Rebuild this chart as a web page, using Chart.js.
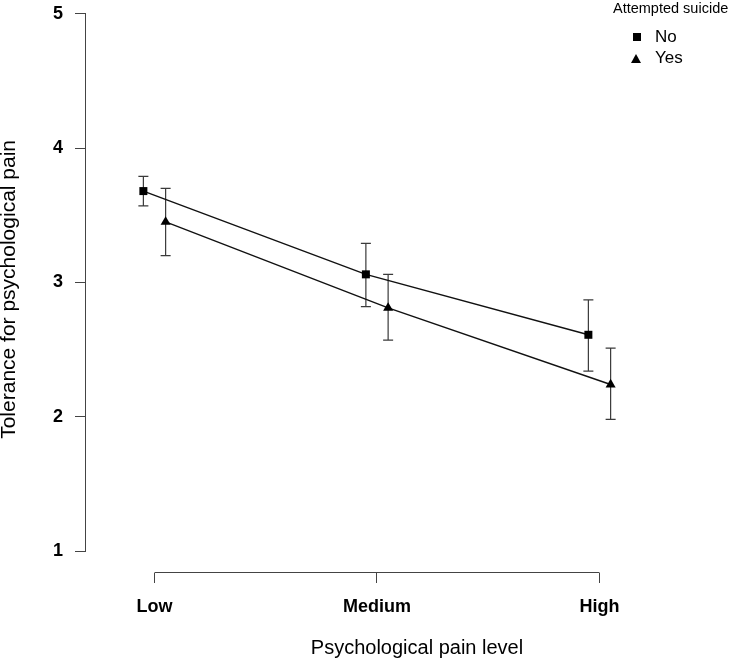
<!DOCTYPE html>
<html>
<head>
<meta charset="utf-8">
<script src="https://cdn.jsdelivr.net/npm/chart.js@4/dist/chart.umd.min.js"></script>
<style>
  html, body { margin: 0; padding: 0; background: #ffffff; }
  #wrap { position: relative; width: 729px; height: 663px; font-family: "Liberation Sans", Arial, sans-serif; color: #000; }
  #c { position: absolute; left: 0; top: 0; }
  #legend { position: absolute; left: 0; top: 0; width: 729px; height: 0; }
  .lg-title { position: absolute; left: 613px; top: 0px; font-size: 14.5px; line-height: 17px; white-space: nowrap; }
  .lg-text { position: absolute; left: 655px; font-size: 17px; line-height: 20px; white-space: nowrap; }
  .lg-rect { position: absolute; width: 8px; height: 8px; background: #000; }
  .lg-triangle { position: absolute; width: 0; height: 0; border-left: 5.5px solid transparent; border-right: 5.5px solid transparent; border-bottom: 9px solid #000; }
</style>
</head>
<body>
<div id="wrap">
  <canvas id="c" width="729" height="663"></canvas>
  <div id="legend"></div>
</div>
<script>
// ---------------- data ----------------
const categories = ['Low', 'Medium', 'High'];
const categoryPositions = [1, 2, 3];
const yTicks = [1, 2, 3, 4, 5];

const seriesNames = ['No', 'Yes'];
const noMean  = [3.68, 3.06, 2.61];
const noLower = [3.57, 2.82, 2.34];
const noUpper = [3.79, 3.29, 2.87];

const yesMean  = [3.45, 2.81, 2.24];
const yesLower = [3.20, 2.57, 1.98];
const yesUpper = [3.70, 3.06, 2.51];

const xTitle = 'Psychological pain level';
const yTitle = 'Tolerance for psychological pain';
const legendTitle = 'Attempted suicide';

// ---------------- style / layout ----------------
const FONT = '"Liberation Sans", Arial, sans-serif';
const INK = '#111111';
const AXIS = '#444444';
const BAR = '#3a3a3a';
const DODGE = 0.05;      // horizontal offset of the two groups
const CAP = 0.0225;      // half width of error-bar caps
const X_MIN = 0.889888, X_MAX = 3.469663;
const Y_MIN = 0.83643, Y_MAX = 5.0595;
const Y_AXIS_AT = 0.6899;   // x value where the y axis line sits
const X_AXIS_AT = 0.84015;  // y value where the x axis line sits
const markerStyles = ['rect', 'triangle'];

function points(xs, ys, off) {
  return xs.map((x, i) => ({ x: x + off, y: ys[i] }));
}
function errorBars(xs, lo, hi, off) {
  const pts = [];
  xs.forEach((x0, i) => {
    const x = x0 + off;
    pts.push({ x: x - CAP, y: hi[i] }, { x: x + CAP, y: hi[i] }, { x: x, y: null });
    pts.push({ x: x, y: hi[i] }, { x: x, y: lo[i] }, { x: x, y: null });
    pts.push({ x: x - CAP, y: lo[i] }, { x: x + CAP, y: lo[i] }, { x: x, y: null });
  });
  return pts;
}

const lineCommon = { showLine: true, clip: false, borderWidth: 1.4, borderColor: INK, pointBackgroundColor: '#000', pointBorderWidth: 0, tension: 0 };
const barCommon = { showLine: true, clip: false, borderWidth: 1.2, borderColor: BAR, pointRadius: 0, spanGaps: false };

const datasets = [
  Object.assign({ label: seriesNames[0], data: points(categoryPositions, noMean, -DODGE), pointStyle: markerStyles[0], pointRadius: 5.66 }, lineCommon),
  Object.assign({ label: seriesNames[1], data: points(categoryPositions, yesMean, DODGE), pointStyle: markerStyles[1], pointRadius: 5.8 }, lineCommon),
  Object.assign({ label: 'No error', data: errorBars(categoryPositions, noLower, noUpper, -DODGE) }, barCommon),
  Object.assign({ label: 'Yes error', data: errorBars(categoryPositions, yesLower, yesUpper, DODGE) }, barCommon),
  // axis lines spanning only the tick range, as in the reference
  { label: 'x axis line', data: [{ x: categoryPositions[0], y: X_AXIS_AT }, { x: categoryPositions[categoryPositions.length - 1], y: X_AXIS_AT }],
    showLine: true, clip: false, borderWidth: 1, borderColor: AXIS, pointRadius: 0 },
  { label: 'y axis line', data: [{ x: Y_AXIS_AT, y: yTicks[0] }, { x: Y_AXIS_AT, y: yTicks[yTicks.length - 1] }],
    showLine: true, clip: false, borderWidth: 1, borderColor: AXIS, pointRadius: 0 }
];

new Chart(document.getElementById('c').getContext('2d'), {
  type: 'scatter',
  data: { datasets },
  options: {
    responsive: false,
    animation: false,
    devicePixelRatio: 1,
    events: [],
    layout: { padding: { left: 0, right: 25, top: 5, bottom: 0 } },
    plugins: { legend: { display: false }, tooltip: { enabled: false } },
    scales: {
      x: {
        type: 'linear', position: 'bottom', min: X_MIN, max: X_MAX,
        afterBuildTicks: s => { s.ticks = categoryPositions.map(v => ({ value: v })); },
        ticks: {
          callback: v => categories[categoryPositions.indexOf(v)],
          font: { family: FONT, size: 18, weight: 'bold', lineHeight: 1.2 },
          color: '#000', padding: 13, maxRotation: 0, autoSkip: false
        },
        grid: { display: true, drawOnChartArea: false, drawTicks: true, tickLength: 10, color: AXIS, lineWidth: 1 },
        border: { display: false },
        title: { display: true, text: xTitle, color: '#000', font: { family: FONT, size: 20, lineHeight: 1.2 }, padding: { top: 0, bottom: 3 } },
        afterFit: s => { s.height = 90; }
      },
      y: {
        type: 'linear', position: 'left', min: Y_MIN, max: Y_MAX,
        afterBuildTicks: s => { s.ticks = yTicks.map(v => ({ value: v })); },
        ticks: { font: { family: FONT, size: 18, weight: 'bold', lineHeight: 1.2 }, color: '#000', padding: 67 },
        grid: { display: false, drawTicks: false },
        border: { display: false },
        title: { display: true, text: yTitle, color: '#000', font: { family: FONT, size: 21, lineHeight: 0.86 }, padding: 0 },
        afterFit: s => { s.width = 130; s.paddingTop = 0; s.paddingBottom = 0; }
      },
      yAxisTicks: {
        type: 'linear', axis: 'y', position: { x: Y_AXIS_AT }, min: Y_MIN, max: Y_MAX,
        afterBuildTicks: s => { s.ticks = yTicks.map(v => ({ value: v })); },
        ticks: { display: false },
        grid: { display: true, drawOnChartArea: false, drawTicks: true, tickLength: 11, color: AXIS, lineWidth: 1 },
        border: { display: false },
        afterFit: s => { s.paddingTop = 0; s.paddingBottom = 0; }
      }
    }
  }
});

// ---------------- legend (HTML) ----------------
const legendEl = document.getElementById('legend');
const t = document.createElement('div');
t.className = 'lg-title';
t.textContent = legendTitle;
legendEl.appendChild(t);
const itemCenters = [37, 58];
seriesNames.forEach((name, i) => {
  const m = document.createElement('div');
  if (markerStyles[i] === 'rect') {
    m.className = 'lg-rect';
    m.style.left = '632.7px';
    m.style.top = (itemCenters[i] - 4) + 'px';
  } else {
    m.className = 'lg-triangle';
    m.style.left = '631.2px';
    m.style.top = (itemCenters[i] - 4.5) + 'px';
  }
  legendEl.appendChild(m);
  const tx = document.createElement('div');
  tx.className = 'lg-text';
  tx.style.top = (itemCenters[i] - 10) + 'px';
  tx.textContent = name;
  legendEl.appendChild(tx);
});
</script>
</body>
</html>
